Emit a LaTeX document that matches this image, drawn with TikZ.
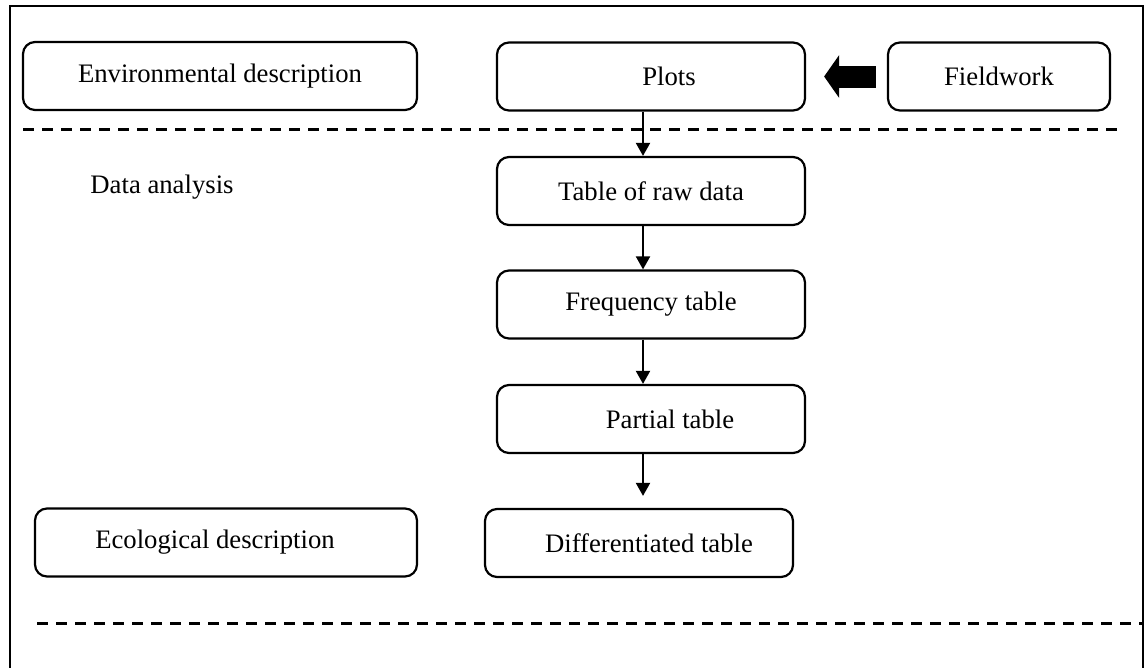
\documentclass[tikz,border=0pt]{standalone}
\usepackage{fontspec}
\setmainfont{Liberation Serif}
\usetikzlibrary{arrows.meta, positioning}

\begin{document}
\begin{tikzpicture}[x=1pt, y=-1pt,
  box/.style={draw, line width=2.2pt, rounded corners=12pt, minimum height=68pt,
              inner sep=0pt, font=\fontsize{26.7}{32}\selectfont},
  lbl/.style={font=\fontsize{26.7}{32}\selectfont},
  arr/.style={-{Triangle[length=13pt,width=14pt]}, line width=2pt},
  bigarr/.style={-{Triangle[length=15pt,width=42pt]}, line width=22pt},
  sep/.style={dash pattern=on 11pt off 8pt, line width=3pt}
]
  \clip (0,0) rectangle (1147,667);
  \draw[line width=2.4pt] (10,680) -- (10,6) -- (1143,6) -- (1143,680);

  \node (env)     at (220,76)    [box, minimum width=394pt] {Environmental description};
  \node (plots)   at (651,76.5)  [box, minimum width=308pt] {\hspace*{36pt}Plots};
  \node (field)   at (999,76.5)  [box, minimum width=222pt] {Fieldwork};
  \node (dana)    at (162,193)   [lbl, anchor=base] {Data analysis};
  \node (raw)     at (651,191)   [box, minimum width=308pt] {Table of raw data};
  \node (freq)    at (651,304.5) [box, minimum width=308pt] {Frequency table};
  \node (partial) at (651,419)   [box, minimum width=308pt] {\hspace*{38pt}Partial table};
  \node (diff)    at (639,543)   [box, minimum width=308pt] {\hspace*{20pt}Differentiated table};
  \node (eco)     at (226,542.5) [box, minimum width=382pt] {\hspace*{-22pt}Ecological description};

  \draw[sep] (23,129) -- (1117,129);
  \draw[sep] (37,623) -- (1143,623);

  \draw[bigarr, shorten <=11pt, shorten >=18pt] (field) -- (plots);
  \draw[arr] ([xshift=-8pt]plots.south) -- ([xshift=-8pt]raw.north);
  \draw[arr] ([xshift=-8pt]raw.south) -- ([xshift=-8pt]freq.north);
  \draw[arr] ([xshift=-8pt]freq.south) -- ([xshift=-8pt]partial.north);
  \draw[arr, shorten >=12pt] ([xshift=-8pt]partial.south) -- ([xshift=-8pt]partial.south |- diff.north);
\end{tikzpicture}
\end{document}
